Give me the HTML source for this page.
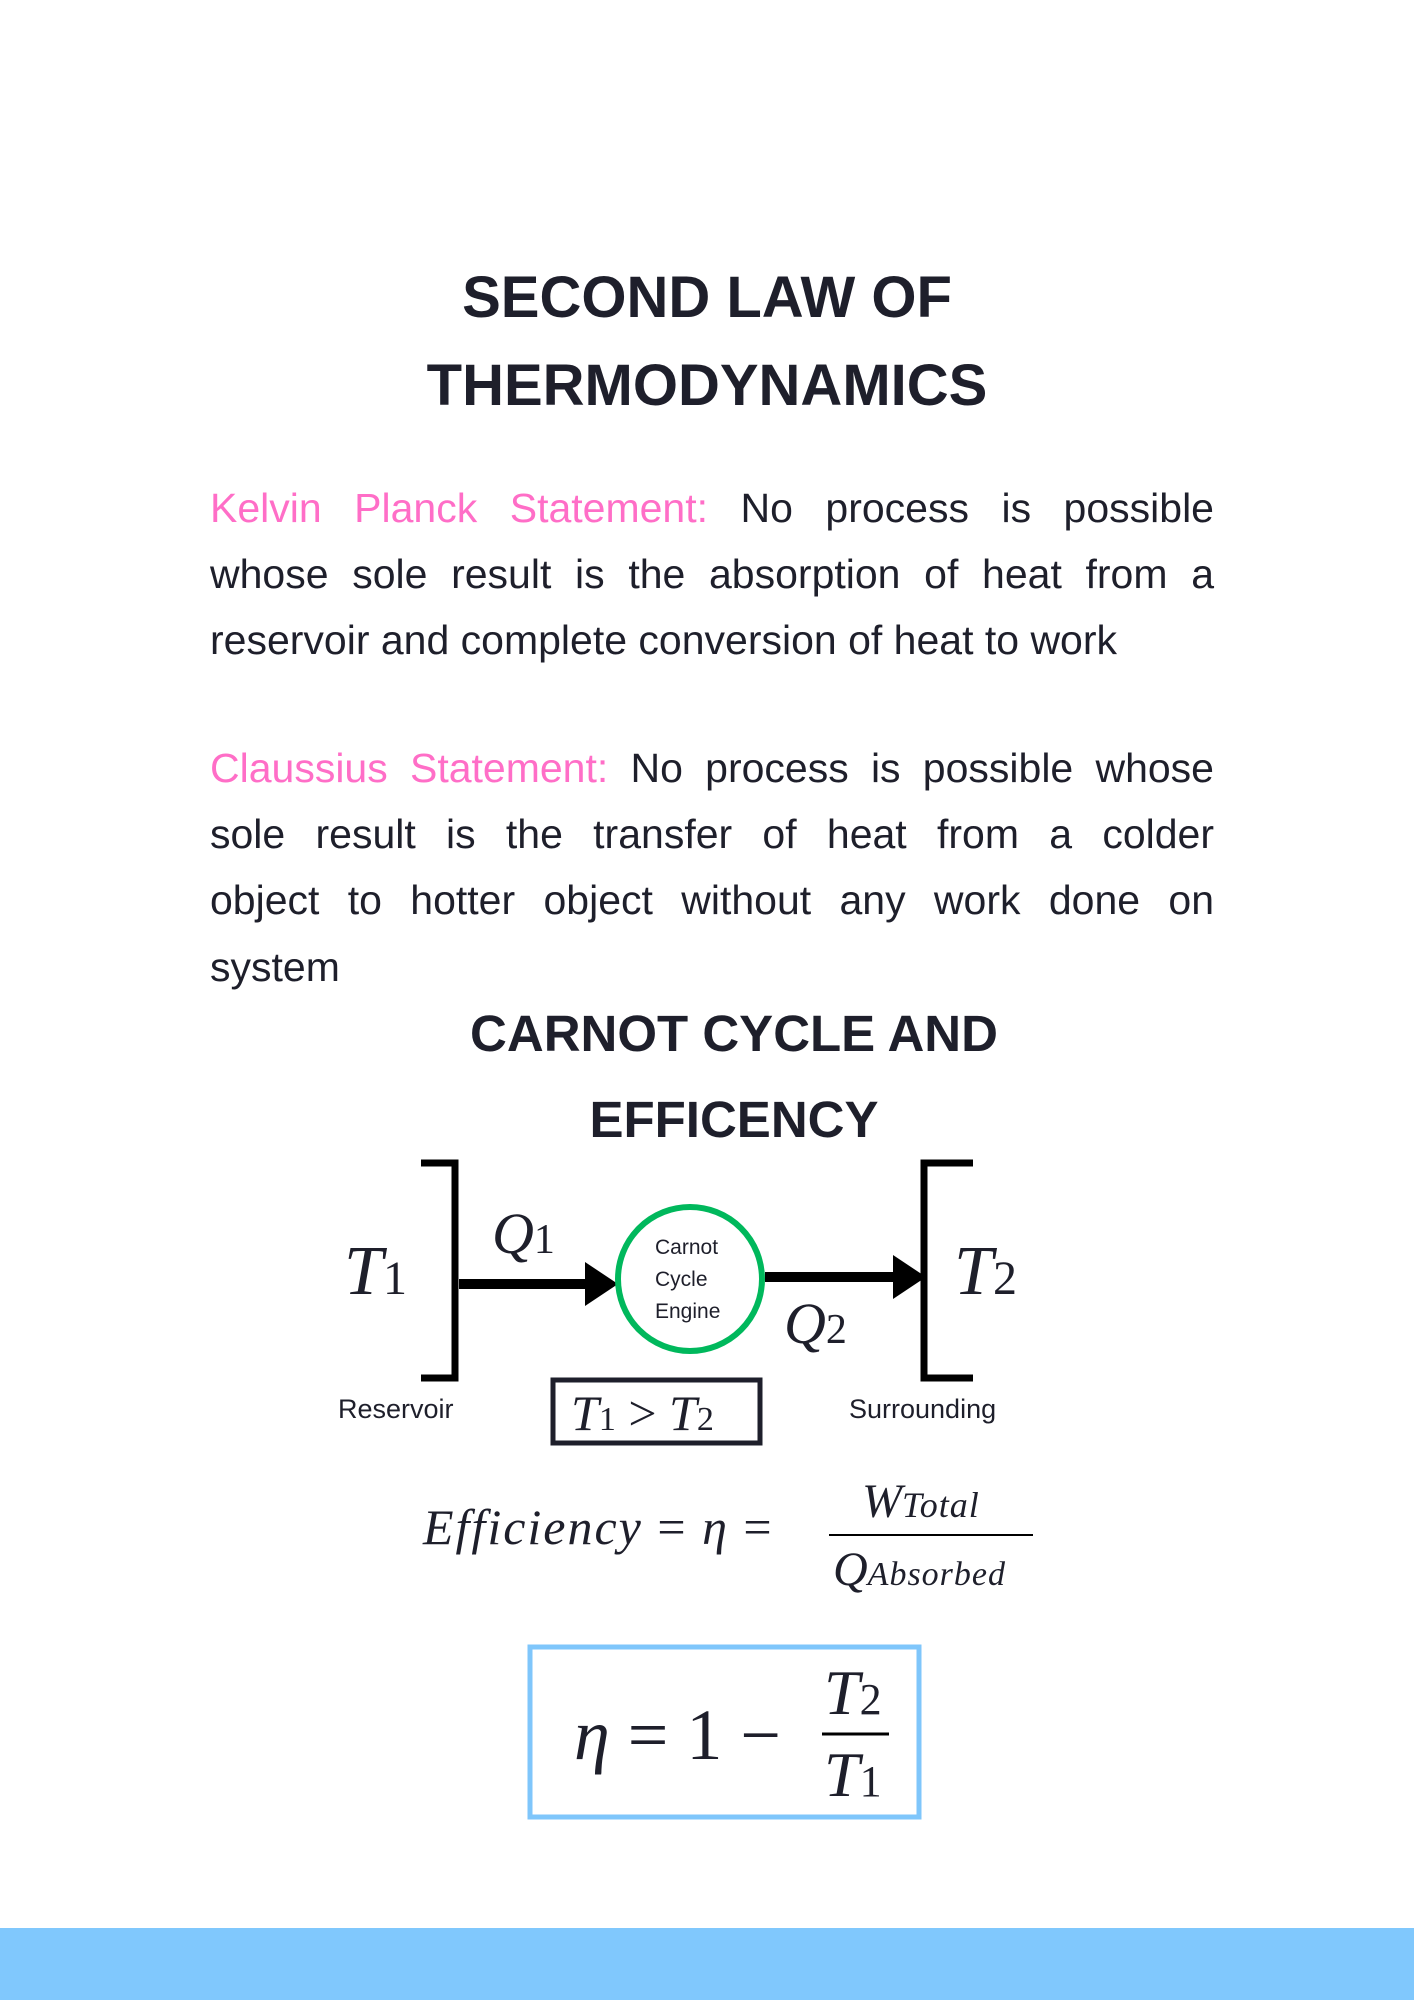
<!DOCTYPE html>
<html><head><meta charset="utf-8"><style>
html,body{margin:0;padding:0}
body{width:1414px;height:2000px;position:relative;background:#fff;overflow:hidden;font-family:"Liberation Sans",sans-serif;color:#1e1f2b}
.a{position:absolute;white-space:nowrap}
.title{font-weight:bold;font-size:58px;width:1414px;text-align:center;left:0}
.ln{position:absolute;left:210px;width:1004px;font-size:41px;text-align:justify;text-align-last:justify;white-space:nowrap;line-height:1}
.ln.l{text-align-last:left}
.pk{color:#ff6ec7}
.m{font-family:"Liberation Serif",serif;font-style:italic}
.s{font-family:"Liberation Serif",serif}
</style></head><body>
<div class="a title" style="top:264px">SECOND LAW OF</div>
<div class="a title" style="top:352px">THERMODYNAMICS</div>

<div class="ln" style="top:488px"><span class="pk">Kelvin Planck Statement:</span> No process is possible</div>
<div class="ln" style="top:554px">whose sole result is the absorption of heat from a</div>
<div class="ln l" style="top:620px">reservoir and complete conversion of heat to work</div>

<div class="ln" style="top:748px"><span class="pk">Claussius Statement:</span> No process is possible whose</div>
<div class="ln" style="top:814px">sole result is the transfer of heat from a colder</div>
<div class="ln" style="top:880px">object to hotter object without any work done on</div>
<div class="ln l" style="top:947px">system</div>

<div class="a title" style="top:1004px;left:734px;width:auto;transform:translateX(-50%);font-size:51px">CARNOT CYCLE AND</div>
<div class="a title" style="top:1090px;left:734px;width:auto;transform:translateX(-50%);font-size:51px">EFFICENCY</div>

<svg class="a" style="left:0;top:0" width="1414" height="2000">
<g fill="none" stroke="#000" stroke-width="7">
<polyline points="421,1163 455,1163 455,1378 421,1378"/>
<polyline points="973,1163 924,1163 924,1378 973,1378"/>
</g>
<line x1="459" y1="1284" x2="590" y2="1284" stroke="#000" stroke-width="10"/>
<polygon points="585,1262 618,1284 585,1306" fill="#000"/>
<line x1="765" y1="1277" x2="895" y2="1277" stroke="#000" stroke-width="10"/>
<polygon points="893,1255 926,1277 893,1299" fill="#000"/>
<ellipse cx="690" cy="1279" rx="72" ry="72" fill="#fff" stroke="#00b85c" stroke-width="6"/>
<rect x="553" y="1380" width="207" height="63" fill="none" stroke="#1e1f2b" stroke-width="5"/>
<line x1="829" y1="1535" x2="1033" y2="1535" stroke="#000" stroke-width="2"/>
<rect x="530" y="1647" width="389" height="170" fill="none" stroke="#7fc6fb" stroke-width="5"/>
<line x1="822" y1="1734" x2="889" y2="1734" stroke="#000" stroke-width="3"/>
</svg>

<div class="a m" style="left:344px;top:1232px;font-size:70px">T<span class="s" style="font-size:48px;font-style:normal">1</span></div>
<div class="a m" style="left:492px;top:1200px;font-size:58px">Q<span class="s" style="font-size:42px;font-style:normal">1</span></div>
<div class="a m" style="left:954px;top:1232px;font-size:70px">T<span class="s" style="font-size:48px;font-style:normal">2</span></div>
<div class="a m" style="left:784px;top:1290px;font-size:58px">Q<span class="s" style="font-size:42px;font-style:normal">2</span></div>
<div class="a" style="left:655px;top:1232px;font-size:21px;line-height:32px">Carnot<br>Cycle<br>Engine</div>
<div class="a" style="left:338px;top:1394px;font-size:27px">Reservoir</div>
<div class="a" style="left:849px;top:1394px;font-size:27px">Surrounding</div>
<div class="a m" style="left:571px;top:1384px;font-size:50px">T<span class="s" style="font-size:34px;font-style:normal">1</span><span class="s" style="font-style:normal"> &gt; </span>T<span class="s" style="font-size:34px;font-style:normal">2</span></div>

<div class="a m" style="left:423px;top:1498px;font-size:50px;letter-spacing:2px">Efficiency <span class="s" style="font-style:normal">=</span> η <span class="s" style="font-style:normal">=</span></div>
<div class="a m" style="left:862px;top:1474px;font-size:48px">W<span style="font-size:36px;letter-spacing:1px">Total</span></div>
<div class="a m" style="left:833px;top:1542px;font-size:48px">Q<span style="font-size:34px;letter-spacing:1px">Absorbed</span></div>

<div class="a m" style="left:574px;top:1694px;font-size:72px">η <span class="s" style="font-style:normal">= 1 −</span></div>
<div class="a m" style="left:824px;top:1656px;font-size:64px">T<span class="s" style="font-size:44px;font-style:normal">2</span></div>
<div class="a m" style="left:824px;top:1738px;font-size:64px">T<span class="s" style="font-size:44px;font-style:normal">1</span></div>

<div class="a" style="left:0;top:1928px;width:1414px;height:72px;background:#80c8fd"></div>
</body></html>
